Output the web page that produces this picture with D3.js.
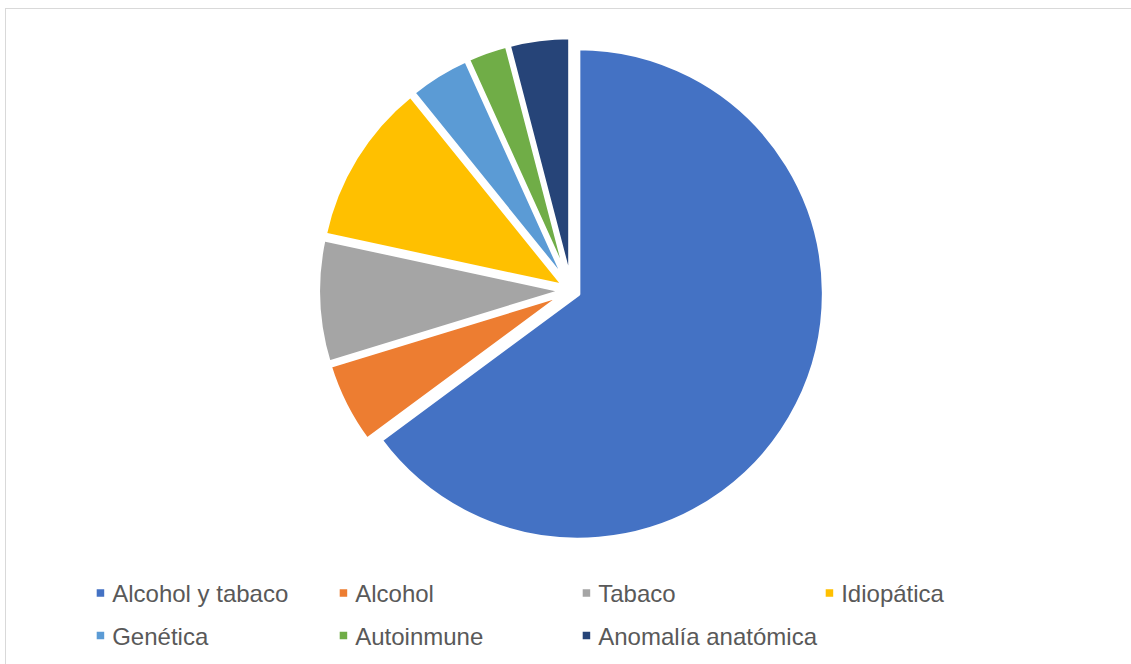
<!DOCTYPE html>
<html>
<head>
<meta charset="utf-8">
<script src="https://cdn.jsdelivr.net/npm/d3@7"></script>
<style>
  body { margin: 0; background: #fff; }
  svg { display: block; }
</style>
</head>
<body>
<svg width="1131" height="664"></svg>
<script>
// causes, counts
const categories = ["Alcohol y tabaco", "Alcohol", "Tabaco", "Idiopática", "Genética", "Autoinmune", "Anomalía anatómica"]
const values = [48, 4, 6, 8, 3, 2, 3]
const colors = ["#4472C4", "#ED7D31", "#A5A5A5", "#FFC000", "#5B9BD5", "#70AD47", "#264478"]

const svg = d3.select("svg")
const width = +svg.attr("width")
const height = +svg.attr("height")

// chart area border
svg.append("rect")
  .attr("x", 5.5).attr("y", 8.5)
  .attr("width", width).attr("height", height)
  .attr("fill", "none")
  .attr("stroke", "#d9d9d9")
  .attr("stroke-width", 1)

const cx = 571.4, cy = 290.5
const r = 246
const explode = 7.5

const data = categories.map((c, i) => ({name: c, value: values[i], color: colors[i]}))

const pie = d3.pie().sort(null).value(d => d.value)
const arc = d3.arc().innerRadius(0).outerRadius(r)

const g = svg.append("g").attr("transform", `translate(${cx},${cy})`)

g.selectAll("path")
  .data(pie(data))
  .enter()
  .append("path")
  .attr("d", arc)
  .attr("fill", d => d.data.color)
  .attr("stroke", "#fff")
  .attr("stroke-width", 4.5)
  .attr("stroke-linejoin", "round")
  .attr("transform", d => {
    const a = (d.startAngle + d.endAngle) / 2
    return `translate(${explode * Math.sin(a)},${-explode * Math.cos(a)})`
  })

// legend, 4 columns
const legX = 96.7, colW = 243, rowY = 593, rowH = 42.5
const leg = svg.append("g")
  .selectAll("g")
  .data(data)
  .enter()
  .append("g")
  .attr("transform", (d, i) => `translate(${legX + (i % 4) * colW},${rowY + Math.floor(i / 4) * rowH})`)

leg.append("rect")
  .attr("x", 0).attr("y", -3.75)
  .attr("width", 7.5).attr("height", 7.5)
  .attr("fill", d => d.color)

leg.append("text")
  .attr("x", 15.5)
  .attr("y", 9)
  .attr("font-family", "Liberation Sans, Arial, sans-serif")
  .attr("font-size", "24px")
  .attr("fill", "#595959")
  .text(d => d.name)
</script>
</body>
</html>
